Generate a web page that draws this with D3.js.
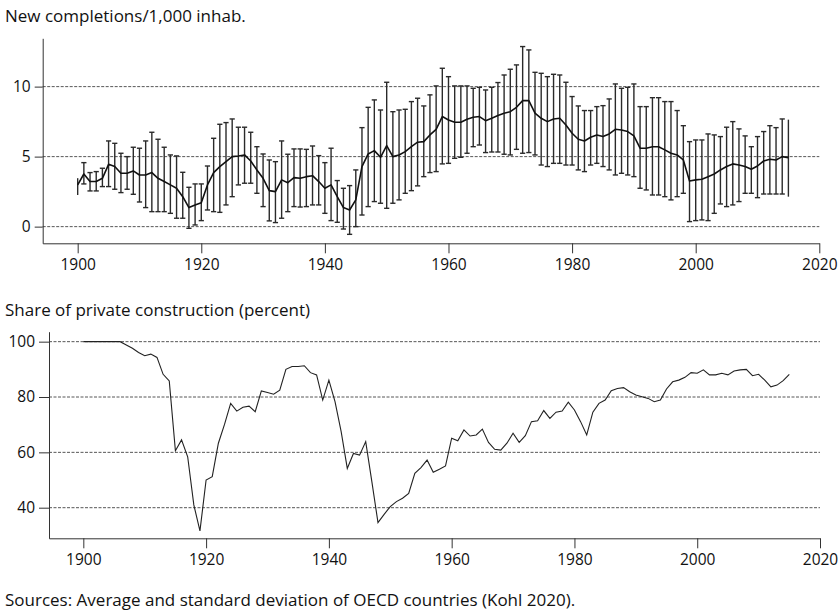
<!DOCTYPE html>
<html>
<head>
<meta charset="utf-8">
<script src="https://cdn.jsdelivr.net/npm/d3@7"></script>
<style>
  body { margin: 0; background: #fff; }
  svg { display: block; font-family: "Open Sans", "Noto Sans", sans-serif; }
  .grid line { stroke: #444; stroke-width: 0.9; stroke-dasharray: 3,1.5; }
  .axis path, .axis line { stroke: #333; stroke-width: 1; }
  .axis text { font-size: 15.5px; fill: #111; font-family: "Open Sans", "Noto Sans", sans-serif; }
</style>
</head>
<body>
<script>
// years 1900..2015
var years = d3.range(1900, 2016);

// new completions per 1,000 inhabitants: mean, upper and lower end of the bar
var completionsMean = [
  2.98, 3.76, 3.22, 3.22, 3.45, 4.45, 4.29, 3.81, 3.81, 3.98,
  3.69, 3.69, 3.86, 3.45, 3.22, 2.98, 2.74, 2.14, 1.36, 1.55,
  1.71, 2.98, 3.86, 4.29, 4.64, 5.00, 5.05, 5.12, 4.69, 4.05,
  3.45, 2.57, 2.50, 3.34, 3.14, 3.50, 3.45, 3.57, 3.64, 3.22,
  2.74, 2.98, 2.14, 1.36, 1.19, 1.91, 4.29, 5.19, 5.43, 4.95,
  5.79, 5.00, 5.12, 5.36, 5.71, 6.03, 6.07, 6.55, 6.95, 7.86,
  7.62, 7.45, 7.45, 7.67, 7.81, 7.86, 7.57, 7.74, 7.93, 8.10,
  8.21, 8.52, 9.00, 9.00, 8.10, 7.74, 7.50, 7.69, 7.74, 7.26,
  6.67, 6.24, 6.12, 6.38, 6.55, 6.43, 6.62, 6.95, 6.90, 6.79,
  6.48, 5.60, 5.60, 5.71, 5.71, 5.48, 5.24, 5.12, 4.76, 3.26,
  3.34, 3.38, 3.57, 3.76, 4.05, 4.29, 4.48, 4.40, 4.29, 4.10,
  4.33, 4.69, 4.81, 4.76, 5.00, 4.93
];
var completionsHigh = [
  3.46, 4.57, 3.86, 3.93, 4.17, 6.12, 5.95, 5.24, 5.00, 5.67,
  5.60, 6.12, 6.74, 6.24, 5.67, 5.12, 5.05, 3.88, 2.81, 3.05,
  3.05, 4.33, 6.31, 7.31, 7.43, 7.69, 7.10, 7.10, 6.74, 5.71,
  5.19, 4.76, 4.64, 6.12, 5.17, 5.55, 5.55, 5.52, 5.76, 5.07,
  4.57, 5.60, 3.29, 2.74, 2.93, 4.05, 7.07, 8.52, 9.05, 8.33,
  10.31, 8.21, 8.33, 8.38, 8.93, 9.17, 8.62, 9.41, 10.05, 11.31,
  10.71, 10.05, 10.05, 10.05, 9.88, 9.95, 9.76, 9.95, 10.29, 10.83,
  11.24, 11.55, 12.86, 12.62, 11.02, 10.95, 10.71, 10.88, 10.83, 10.31,
  9.29, 8.62, 8.29, 8.29, 8.57, 8.64, 9.12, 10.19, 9.88, 9.95,
  10.19, 8.57, 8.57, 9.21, 9.21, 8.93, 8.93, 8.29, 7.21, 6.07,
  6.19, 6.19, 6.62, 6.55, 6.43, 7.10, 7.50, 6.98, 6.48, 5.71,
  6.43, 6.79, 7.21, 7.07, 7.69, 7.64
];
var completionsLow = [
  2.26, 3.05, 2.55, 2.55, 2.86, 2.86, 2.67, 2.43, 2.67, 2.31,
  1.76, 1.36, 1.07, 1.07, 1.07, 0.95, 0.60, 0.60, -0.12, 0.12,
  0.43, 1.19, 1.07, 1.02, 1.55, 2.14, 2.98, 3.10, 3.10, 2.38,
  1.43, 0.41, 0.29, 0.60, 1.07, 1.43, 1.40, 1.43, 1.55, 1.55,
  0.95, 0.43, 0.31, -0.17, -0.55, 0.00, 0.83, 1.43, 1.79, 1.67,
  1.31, 1.67, 1.91, 2.38, 2.57, 2.91, 3.57, 3.86, 3.93, 4.48,
  4.52, 4.88, 4.95, 5.24, 5.71, 5.83, 5.29, 5.33, 5.33, 5.17,
  5.12, 5.52, 5.24, 5.29, 5.12, 4.40, 4.29, 4.52, 4.52, 4.40,
  4.40, 4.05, 3.93, 4.40, 4.52, 4.29, 4.05, 3.69, 3.81, 3.69,
  3.57, 2.74, 2.62, 2.26, 2.26, 2.14, 1.91, 2.14, 2.38, 0.36,
  0.43, 0.48, 0.43, 0.95, 1.62, 1.43, 1.55, 1.79, 2.38, 2.38,
  2.07, 2.33, 2.33, 2.33, 2.33, 2.14
];

// share of private construction, percent
var privateShare = [
  100, 100, 100, 100, 100, 100, 100, 98.8, 97.6, 96.1,
  94.9, 95.5, 94.3, 88.2, 85.8, 60.6, 64.5, 58.4, 41.0, 31.6,
  50.0, 51.2, 63.3, 70.1, 77.7, 74.9, 76.3, 76.7, 74.7, 82.2,
  81.6, 81.0, 82.5, 90.0, 91.0, 91.0, 91.3, 88.8, 88.0, 78.9,
  86.1, 78.3, 67.5, 54.2, 59.6, 59.0, 63.9, 49.4, 34.6, 37.6,
  40.4, 42.2, 43.4, 45.2, 52.4, 54.5, 57.2, 52.8, 53.9, 55.1,
  65.1, 64.2, 68.1, 65.9, 66.3, 68.4, 63.6, 61.1, 60.8, 63.3,
  66.9, 63.6, 66.0, 71.1, 71.4, 75.1, 72.3, 74.5, 74.9, 78.1,
  75.3, 71.1, 66.3, 74.5, 77.7, 78.9, 82.3, 83.1, 83.4, 81.9,
  80.7, 80.1, 79.5, 78.3, 78.9, 82.9, 85.5, 86.1, 87.1, 88.8,
  88.6, 89.8, 88.0, 88.0, 88.6, 88.0, 89.4, 89.8, 90.0, 87.7,
  88.2, 86.1, 83.7, 84.3, 85.9, 88.2
];

var xTicks = [1900, 1920, 1940, 1960, 1980, 2000, 2020];
var topTicks = [0, 5, 10];
var bottomTicks = [40, 60, 80, 100];

var width = 840, height = 613;

var svg = d3.select('body').append('svg')
  .attr('width', width)
  .attr('height', height);

// ---- top panel: completions with error bars ----
var x1 = d3.scaleLinear().domain([1894.34, 2020]).range([42.7, 819.3]);
var y1 = d3.scaleLinear().domain([-1.19, 13.45]).range([243.3, 38.3]);

svg.append('text')
  .attr('x', 5).attr('y', 22)
  .attr('font-size', 17).attr('fill', '#111')
  .text('New completions/1,000 inhab.');

svg.append('g').attr('class', 'grid')
  .selectAll('line').data(topTicks).enter().append('line')
  .attr('x1', x1.range()[0]).attr('x2', x1.range()[1])
  .attr('y1', function (d) { return y1(d); })
  .attr('y2', function (d) { return y1(d); });

var bars = svg.append('g')
  .attr('stroke', '#2a2a2a')
  .attr('stroke-width', 1.4);

bars.selectAll('.bar').data(years).enter().append('line')
  .attr('x1', function (d) { return x1(d); })
  .attr('x2', function (d) { return x1(d); })
  .attr('y1', function (d, i) { return y1(completionsHigh[i]); })
  .attr('y2', function (d, i) { return y1(completionsLow[i]); });

// caps, left off the first and last bar as in the source
var capYears = years.slice(1, years.length - 1);
['High', 'Low'].forEach(function (k) {
  var vals = k === 'High' ? completionsHigh : completionsLow;
  bars.selectAll('.cap' + k).data(capYears).enter().append('line')
    .attr('x1', function (d) { return x1(d) - 2.6; })
    .attr('x2', function (d) { return x1(d) + 2.6; })
    .attr('y1', function (d) { return y1(vals[d - 1900]); })
    .attr('y2', function (d) { return y1(vals[d - 1900]); });
});

svg.append('path')
  .datum(years)
  .attr('fill', 'none')
  .attr('stroke', '#111')
  .attr('stroke-width', 1.6)
  .attr('stroke-linejoin', 'round')
  .attr('d', d3.line()
    .x(function (d) { return x1(d); })
    .y(function (d, i) { return y1(completionsMean[i]); }));

svg.append('g').attr('class', 'axis')
  .attr('transform', 'translate(0,' + y1.range()[0] + ')')
  .call(d3.axisBottom(x1).tickValues(xTicks).tickFormat(d3.format('d'))
    .tickSize(10).tickSizeOuter(0).tickPadding(6));

svg.append('g').attr('class', 'axis')
  .attr('transform', 'translate(' + x1.range()[0] + ',0)')
  .call(d3.axisLeft(y1).tickValues(topTicks)
    .tickSize(8).tickSizeOuter(0).tickPadding(4));

// ---- bottom panel: private share ----
var x2 = d3.scaleLinear().domain([1894.41, 2020]).range([49, 820]);
var y2 = d3.scaleLinear().domain([28.94, 103.6]).range([538.3, 331.7]);

svg.append('text')
  .attr('x', 5).attr('y', 316)
  .attr('font-size', 17).attr('fill', '#111')
  .text('Share of private construction (percent)');

svg.append('g').attr('class', 'grid')
  .selectAll('line').data(bottomTicks).enter().append('line')
  .attr('x1', x2.range()[0]).attr('x2', x2.range()[1])
  .attr('y1', function (d) { return y2(d); })
  .attr('y2', function (d) { return y2(d); });

svg.append('path')
  .datum(years)
  .attr('fill', 'none')
  .attr('stroke', '#222')
  .attr('stroke-width', 1.1)
  .attr('d', d3.line()
    .x(function (d) { return x2(d); })
    .y(function (d, i) { return y2(privateShare[i]); }));

svg.append('g').attr('class', 'axis')
  .attr('transform', 'translate(0,' + y2.range()[0] + ')')
  .call(d3.axisBottom(x2).tickValues(xTicks).tickFormat(d3.format('d'))
    .tickSize(10).tickSizeOuter(0).tickPadding(6));

svg.append('g').attr('class', 'axis')
  .attr('transform', 'translate(' + x2.range()[0] + ',0)')
  .call(d3.axisLeft(y2).tickValues(bottomTicks)
    .tickSize(10).tickSizeOuter(0).tickPadding(4));

svg.append('text')
  .attr('x', 5).attr('y', 606)
  .attr('font-size', 17).attr('fill', '#111')
  .text('Sources: Average and standard deviation of OECD countries (Kohl 2020).');
</script>
</body>
</html>
